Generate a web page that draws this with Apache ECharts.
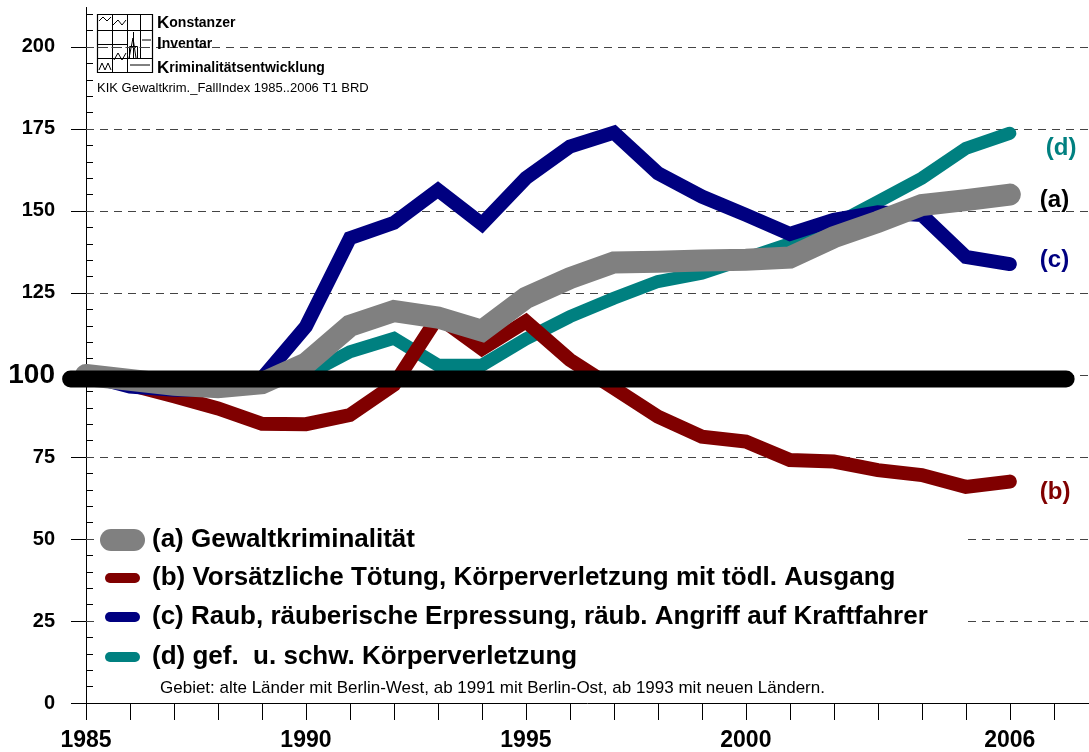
<!DOCTYPE html>
<html>
<head>
<meta charset="utf-8">
<script src="https://cdn.jsdelivr.net/npm/echarts@6/dist/echarts.min.js"></script>
<style>
html,body{margin:0;padding:0;background:#fff;}
#chart{width:1089px;height:752px;}
</style>
</head>
<body>
<div id="chart"></div>
<script>
// ---- data ----
var years = [1985,1986,1987,1988,1989,1990,1991,1992,1993,1994,1995,1996,1997,1998,1999,2000,2001,2002,2003,2004,2005,2006];
var seriesA = [100,98.5,97,96.3,97.5,103.5,115,119.5,117.5,113.5,123.5,129.5,134.3,134.5,134.9,135.1,135.8,142,146.7,151.8,153.3,155];
var seriesB = [100,97,93.5,89.8,85.1,85,87.8,97,117.7,108,116.3,104.6,96,87.3,81.2,79.7,74.1,73.6,71,69.5,65.9,67.5];
var seriesC = [100,96.5,95.5,95.5,99,114.8,141.7,146.4,156.4,146,160,169.6,173.9,161.5,154.4,148.8,143,147.3,149.6,148.8,136,133.8];
var seriesD = [100,99,98.5,98,98.5,100,107.1,111.2,103,103,111,117.8,123.4,128.5,131,135.5,140,145.7,152.8,160,169.1,173.7];
var refLineX = [1984.65, 2007.28];
var refLineY = 98.8;
var names = ['(a) Gewaltkriminalität','(b) Vorsätzliche Tötung, Körperverletzung mit tödl. Ausgang','(c) Raub, räuberische Erpressung, räub. Angriff auf Kraftfahrer','(d) gef.  u. schw. Körperverletzung'];
var shortNames = ['(a)','(b)','(c)','(d)'];
var yMajorTicks = [0,25,50,75,100,125,150,175,200];
var yMinorTicks = [5,10,15,20,30,35,40,45,55,60,65,70,80,85,90,95,105,110,115,120,130,135,140,145,155,160,165,170,180,185,190,195,205,210];
var gridValues = [25,50,75,100,125,150,175,200];
var xTickYears = [1985,1986,1987,1988,1989,1990,1991,1992,1993,1994,1995,1996,1997,1998,1999,2000,2001,2002,2003,2004,2005,2006,2007];
var xLabelYears = [1985,1990,1995,2000,2006];
var footnote = 'Gebiet: alte Länder mit Berlin-West, ab 1991 mit Berlin-Ost, ab 1993 mit neuen Ländern.';
var sourceLine = 'KIK Gewaltkrim._FallIndex 1985..2006 T1 BRD';

var FONT = '"Liberation Sans", Arial, Helvetica, sans-serif';
var colors = {a:'#808080', b:'#800000', c:'#000080', d:'#008080'};

// axis geometry (pixels)
var X_MIN = 1985, X_MAX = 2007.8, PX_LEFT = 86, PX_RIGHT = 1089;
var pxPerYear = (PX_RIGHT - PX_LEFT) / (X_MAX - X_MIN);

function pairs(vals){ return years.map(function(y,i){ return [y, vals[i]]; }); }

var chart = echarts.init(document.getElementById('chart'), null, {renderer:'canvas'});

var pillBig = 'path://M11,0 L34,0 A11,11 0 0 1 34,22 L11,22 A11,11 0 0 1 11,0 Z';
var pillSmall = 'path://M5,0 L30,0 A5,5 0 0 1 30,10 L5,10 A5,5 0 0 1 5,0 Z';

function legendFor(name, top, left, w, h, icon, pad){
  return {
    data:[name], top:top, left:left, orient:'horizontal', padding:0, itemGap:0,
    itemWidth:w, itemHeight:h, icon:icon, selectedMode:false, z:6,
    textStyle:{fontFamily:FONT, fontSize:26, fontWeight:'bold', color:'#000', lineHeight:28, padding:[0,0,0,pad]}
  };
}

function lineSeries(name, vals, color, width, label, offset){
  return {
    name:name, type:'line', data:pairs(vals), showSymbol:false, symbol:'none', clip:false,
    color:color, z:2, silent:true, xAxisIndex:0, yAxisIndex:0,
    lineStyle:{color:color, width:width, cap:'round', join:'miter'},
    endLabel:{show:true, formatter:label, offset:offset, color:color==='#808080'?'#000':color,
      fontFamily:FONT, fontSize:24, fontWeight:'bold'}
  };
}

var refLeftPx = PX_LEFT + (refLineX[0] - X_MIN) * pxPerYear;
var refRightPx = PX_LEFT + (refLineX[1] - X_MIN) * pxPerYear;

var option = {
  animation:false,
  backgroundColor:'#fff',
  grid:[
    {left:PX_LEFT, right:1089-PX_RIGHT, top:7.6, bottom:49, containLabel:false},
    {left:refLeftPx, right:1089-refRightPx, top:7.6, bottom:49, containLabel:false, show:false}
  ],
  legend:[
    legendFor(names[0], 526, 100, 45, 22, pillBig, 2),
    legendFor(names[1], 564, 105, 35, 10, pillSmall, 7),
    legendFor(names[2], 603, 105, 35, 10, pillSmall, 7),
    legendFor(names[3], 643, 105, 35, 10, pillSmall, 7)
  ],
  xAxis:[{
    type:'value', min:X_MIN, max:X_MAX, gridIndex:0,
    axisLine:{show:true, lineStyle:{color:'#000', width:1}},
    axisTick:{show:true, customValues:xTickYears, length:17, lineStyle:{color:'#000'}},
    axisLabel:{show:true, customValues:xLabelYears, margin:26, fontFamily:FONT, fontSize:23, fontWeight:'bold', color:'#000',
      formatter:function(v){return String(v);}},
    splitLine:{show:false}
  },{
    type:'value', min:refLineX[0], max:refLineX[1], gridIndex:1, show:false
  }],
  yAxis:[{
    type:'value', min:0, max:212, position:'left', gridIndex:0,
    axisLine:{show:true, lineStyle:{color:'#000', width:1}},
    axisTick:{show:true, customValues:yMajorTicks, length:15, lineStyle:{color:'#000'}},
    axisLabel:{show:true, customValues:yMajorTicks, margin:31, fontFamily:FONT, color:'#000',
      formatter:function(v){ return v===100 ? '{big|100}' : '{n|'+v+'}'; },
      rich:{big:{fontFamily:FONT, fontSize:28, fontWeight:'bold', color:'#000'},
            n:{fontFamily:FONT, fontSize:20, fontWeight:'bold', color:'#000'}}},
    splitLine:{show:false}
  },{
    type:'value', min:0, max:212, position:'left', offset:0, gridIndex:0,
    axisLine:{show:true, lineStyle:{color:'#000', width:1}},
    axisTick:{show:true, inside:true, customValues:yMinorTicks, length:7, lineStyle:{color:'#000'}},
    axisLabel:{show:false},
    splitLine:{show:false}
  },{
    type:'value', min:0, max:212, gridIndex:1, show:false
  }],
  graphic:{elements:[
    {type:'rect', z:3, shape:{x:94, y:515, width:872, height:182}, style:{fill:'#fff'}, silent:true},
    {type:'text', z:7, left:160, top:680, style:{text:footnote, fontFamily:FONT, fontSize:17, fill:'#000'}},
    // logo block
    {type:'group', z:7, children:[
      {type:'rect', shape:{x:97.5, y:14.5, width:55, height:58}, style:{fill:'#fff', stroke:'#000', lineWidth:1.2}},
      {type:'line', shape:{x1:97.5,y1:30.5,x2:152.5,y2:30.5}, style:{stroke:'#000', lineWidth:1}},
      {type:'line', shape:{x1:97.5,y1:58.5,x2:152.5,y2:58.5}, style:{stroke:'#000', lineWidth:1}},
      {type:'line', shape:{x1:112.5,y1:14.5,x2:112.5,y2:72.5}, style:{stroke:'#000', lineWidth:1}},
      {type:'line', shape:{x1:127.5,y1:14.5,x2:127.5,y2:72.5}, style:{stroke:'#000', lineWidth:1}},
      {type:'line', shape:{x1:140.5,y1:14.5,x2:140.5,y2:58.5}, style:{stroke:'#000', lineWidth:1}},
      {type:'line', shape:{x1:97.5,y1:44.5,x2:127.5,y2:44.5}, style:{stroke:'#000', lineWidth:1}},
      {type:'line', shape:{x1:97.5,y1:47.5,x2:152.5,y2:47.5}, style:{stroke:'#444', lineWidth:1, lineDash:[8,6]}},
      {type:'polyline', shape:{points:[[99,21],[103,17],[107,21],[111,17]]}, style:{stroke:'#000', fill:'none', lineWidth:1}},
      {type:'polyline', shape:{points:[[113,25],[118,20],[122,25],[126,20]]}, style:{stroke:'#000', fill:'none', lineWidth:1}},
      {type:'polyline', shape:{points:[[129,58],[133,38],[136,58]]}, style:{stroke:'#000', fill:'none', lineWidth:1}},
      {type:'rect', shape:{x:129.5, y:46.5, width:8, height:12}, style:{fill:'none', stroke:'#000', lineWidth:1}},
      {type:'line', shape:{x1:133.5,y1:32,x2:133.5,y2:58}, style:{stroke:'#000', lineWidth:1}},
      {type:'polyline', shape:{points:[[99,70],[102,63],[105,70],[108,63],[111,70]]}, style:{stroke:'#000', fill:'none', lineWidth:1}},
      {type:'polyline', shape:{points:[[114,60],[118,53],[122,60],[126,53]]}, style:{stroke:'#000', fill:'none', lineWidth:1}},
      {type:'line', shape:{x1:130,y1:65,x2:150,y2:65}, style:{stroke:'#000', lineWidth:1}},
      {type:'line', shape:{x1:142,y1:40,x2:151,y2:40}, style:{stroke:'#000', lineWidth:1}}
    ]},
    {type:'text', z:7, left:157, top:15, style:{text:'{k|K}{r|onstanzer}', rich:{k:{fontFamily:FONT,fontSize:17,fontWeight:'bold',fill:'#000'}, r:{fontFamily:FONT,fontSize:14,fontWeight:'bold',fill:'#000'}}}},
    {type:'text', z:7, left:157, top:36, style:{text:'{k|I}{r|nventar}', rich:{k:{fontFamily:FONT,fontSize:17,fontWeight:'bold',fill:'#000'}, r:{fontFamily:FONT,fontSize:14,fontWeight:'bold',fill:'#000'}}}},
    {type:'text', z:7, left:157, top:60, style:{text:'{k|K}{r|riminalitätsentwicklung}', rich:{k:{fontFamily:FONT,fontSize:17,fontWeight:'bold',fill:'#000'}, r:{fontFamily:FONT,fontSize:14,fontWeight:'bold',fill:'#000'}}}},
    {type:'text', z:7, left:97, top:82, style:{text:sourceLine, fontFamily:FONT, fontSize:13, fill:'#000'}}
  ]},
  series:[
    {name:'grid', type:'line', data:[], z:1, silent:true, xAxisIndex:0, yAxisIndex:0,
      markLine:{silent:true, z:1, symbol:'none', animation:false, label:{show:false},
        lineStyle:{type:[8,6], color:'#444', width:1},
        data:gridValues.map(function(v){return {yAxis:v};})}},
    lineSeries(names[3], seriesD, colors.d, 13, shortNames[3], [28,15]),
    lineSeries(names[1], seriesB, colors.b, 14, shortNames[1], [22,11]),
    lineSeries(names[2], seriesC, colors.c, 14, shortNames[2], [22,-4]),
    lineSeries(names[0], seriesA, colors.a, 22, shortNames[0], [22,6]),
    {name:'Basis 1985 = 100', type:'line', xAxisIndex:1, yAxisIndex:2,
      data:refLineX.map(function(x){return [x, refLineY];}), showSymbol:false, symbol:'none',
      clip:false, z:4, silent:true, color:'#000', lineStyle:{color:'#000', width:17, cap:'round'}}
  ]
};
chart.setOption(option);
</script>
</body>
</html>
